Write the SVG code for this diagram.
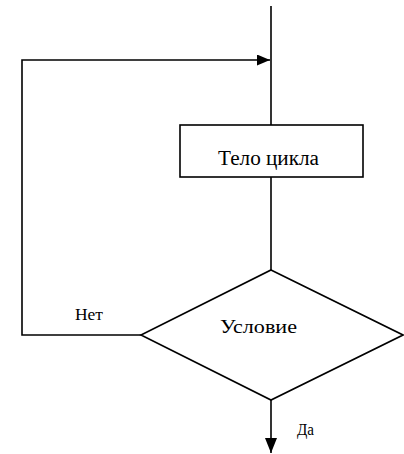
<svg xmlns="http://www.w3.org/2000/svg" width="404" height="454" viewBox="0 0 404 454">
<style>
.ln{fill:none;stroke:#000;stroke-width:1.6}
.shape{fill:#fff;stroke:#000;stroke-width:1.6}
.t{font-family:"Liberation Serif","DejaVu Serif","Times New Roman",serif;fill:#000}
</style>
<defs>
<marker id="ah" markerWidth="13" markerHeight="11" refX="13" refY="5.5" orient="auto" markerUnits="userSpaceOnUse">
<path d="M0,0 L13,5.5 L0,11 Z" fill="#000"/>
</marker>
<marker id="ahd" markerWidth="15" markerHeight="12" refX="15" refY="6" orient="auto" markerUnits="userSpaceOnUse">
<path d="M0,0 L15,6 L0,12 Z" fill="#000"/>
</marker>
</defs>
<rect width="404" height="454" fill="#fff"/>
<g id="connectors">
<line class="ln" x1="271" y1="6" x2="271" y2="125"/>
<polyline class="ln" points="141,335 22,335 22,60 270,60" marker-end="url(#ah)"/>
<line class="ln" x1="271" y1="177" x2="271" y2="270"/>
<line class="ln" x1="271" y1="400" x2="271" y2="453" marker-end="url(#ahd)"/>
<text class="t" x="75" y="320" font-size="17" textLength="28" lengthAdjust="spacingAndGlyphs">Нет</text>
<text class="t" x="297" y="435" font-size="17" textLength="17" lengthAdjust="spacingAndGlyphs">Да</text>
</g>
<g id="body">
<rect class="shape" x="180" y="125" width="183" height="52"/>
<text class="t" x="218" y="165" font-size="20" textLength="101" lengthAdjust="spacingAndGlyphs">Тело цикла</text>
</g>
<g id="condition">
<polygon class="shape" points="271,270 403,335 271,400 141,335"/>
<text class="t" x="220" y="333" font-size="18" textLength="77" lengthAdjust="spacingAndGlyphs">Условие</text>
</g>
</svg>
